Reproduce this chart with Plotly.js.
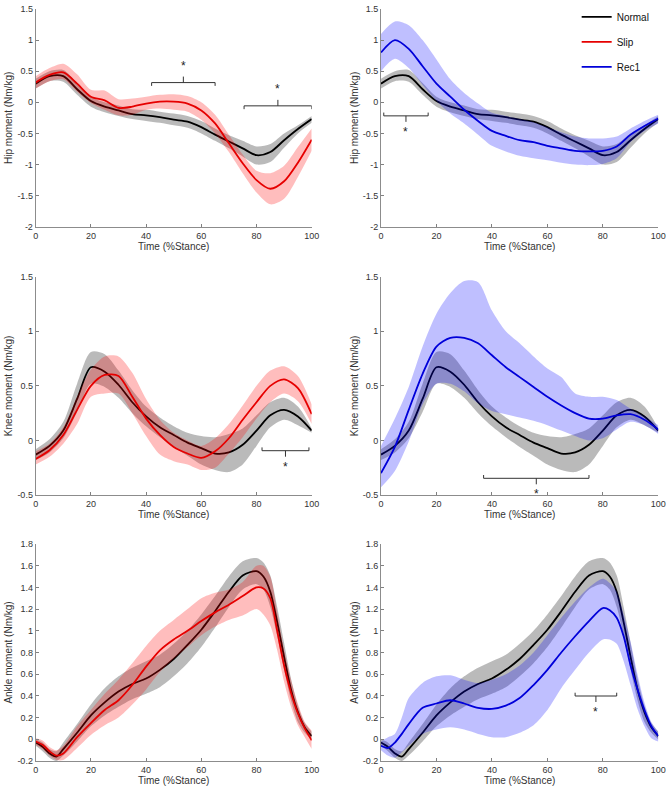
<!DOCTYPE html>
<html>
<head>
<meta charset="utf-8">
<script src="https://cdn.plot.ly/plotly-3.0.1.min.js"></script>
<style>html,body{margin:0;padding:0;background:#fff;}#chart{width:669px;height:794px;}</style>
</head>
<body>
<div id="chart"></div>
<script>
// ---------------- DATA ----------------
const xHip = [0,5,10,15,20,25,30,35,40,45,50,55,60,65,70,75,80,85,90,95,100];
const hipNormalMean  = [0.30,0.42,0.42,0.21,0.02,-0.07,-0.13,-0.19,-0.21,-0.24,-0.28,-0.31,-0.40,-0.52,-0.63,-0.74,-0.85,-0.80,-0.61,-0.43,-0.27];
const hipNormalUpper = [0.38,0.50,0.52,0.31,0.09,0.00,-0.05,-0.11,-0.12,-0.15,-0.18,-0.22,-0.30,-0.42,-0.53,-0.62,-0.71,-0.67,-0.50,-0.37,-0.22];
const hipNormalLower = [0.22,0.34,0.33,0.12,-0.07,-0.16,-0.22,-0.27,-0.30,-0.33,-0.37,-0.41,-0.50,-0.62,-0.74,-0.87,-1.00,-0.96,-0.73,-0.50,-0.33];
const hipSlipMean    = [0.32,0.44,0.48,0.30,0.09,0.03,-0.09,-0.07,-0.02,0.01,0.01,-0.02,-0.13,-0.34,-0.66,-0.98,-1.25,-1.39,-1.27,-0.97,-0.60];
const hipSlipUpper   = [0.42,0.55,0.62,0.45,0.20,0.19,0.05,0.06,0.09,0.12,0.13,0.10,0.00,-0.20,-0.52,-0.84,-1.10,-1.14,-1.02,-0.72,-0.42];
const hipSlipLower   = [0.22,0.34,0.37,0.17,-0.01,-0.12,-0.21,-0.20,-0.12,-0.10,-0.12,-0.15,-0.28,-0.50,-0.80,-1.14,-1.45,-1.64,-1.55,-1.20,-0.78];
const hipRecMean     = [0.80,1.00,0.86,0.58,0.30,0.09,-0.12,-0.30,-0.46,-0.54,-0.61,-0.64,-0.70,-0.74,-0.78,-0.79,-0.78,-0.71,-0.52,-0.38,-0.26];
const hipRecUpper    = [1.10,1.30,1.24,1.00,0.69,0.37,0.15,-0.02,-0.17,-0.22,-0.27,-0.32,-0.40,-0.48,-0.55,-0.58,-0.58,-0.55,-0.42,-0.30,-0.20];
const hipRecLower    = [0.50,0.70,0.55,0.28,0.02,-0.18,-0.34,-0.52,-0.70,-0.79,-0.86,-0.90,-0.93,-0.97,-1.00,-1.01,-0.99,-0.90,-0.64,-0.46,-0.34];

const xKnee = [0,5,10,15,20,25,30,35,40,45,50,55,60,65,70,75,80,85,90,95,100];
const kneeNormalMean  = [-0.13,-0.05,0.09,0.38,0.67,0.63,0.51,0.35,0.22,0.12,0.05,-0.02,-0.07,-0.12,-0.11,-0.04,0.09,0.23,0.28,0.22,0.09];
const kneeNormalUpper = [-0.08,0.01,0.17,0.52,0.81,0.79,0.64,0.46,0.31,0.21,0.13,0.07,0.04,0.03,0.06,0.11,0.23,0.35,0.39,0.31,0.11];
const kneeNormalLower = [-0.18,-0.11,0.02,0.26,0.52,0.49,0.39,0.25,0.13,0.03,-0.06,-0.14,-0.22,-0.27,-0.29,-0.22,-0.05,0.12,0.19,0.14,0.07];
const kneeSlipMean    = [-0.17,-0.09,0.05,0.28,0.50,0.60,0.59,0.40,0.20,0.05,-0.06,-0.12,-0.16,-0.10,0.02,0.19,0.35,0.50,0.56,0.48,0.24];
const kneeSlipUpper   = [-0.10,-0.03,0.12,0.40,0.65,0.77,0.77,0.62,0.38,0.19,0.07,0.00,-0.05,0.02,0.15,0.32,0.50,0.64,0.68,0.59,0.33];
const kneeSlipLower   = [-0.22,-0.15,-0.03,0.15,0.40,0.43,0.43,0.25,0.04,-0.13,-0.19,-0.22,-0.27,-0.25,-0.12,0.03,0.20,0.35,0.43,0.36,0.15];
const kneeRecMean     = [-0.30,-0.06,0.28,0.61,0.86,0.94,0.94,0.89,0.78,0.67,0.58,0.49,0.40,0.32,0.25,0.20,0.20,0.23,0.24,0.19,0.10];
const kneeRecUpper    = [-0.05,0.20,0.49,0.86,1.16,1.35,1.46,1.45,1.19,1.00,0.89,0.77,0.66,0.58,0.43,0.40,0.40,0.37,0.29,0.22,0.14];
const kneeRecLower    = [-0.43,-0.28,-0.01,0.33,0.52,0.52,0.45,0.34,0.27,0.24,0.21,0.18,0.14,0.09,0.04,0.00,0.02,0.10,0.17,0.14,0.06];

const xAnkle = [0,2.5,5,7.5,10,15,20,25,30,35,40,45,50,55,60,65,70,75,80,82.5,85,87.5,90,92.5,95,97.5,100];
const ankleNormalMean  = [-0.03,-0.07,-0.13,-0.16,-0.09,0.06,0.22,0.34,0.44,0.51,0.56,0.64,0.74,0.87,1.01,1.18,1.36,1.51,1.55,1.50,1.36,1.08,0.76,0.46,0.25,0.11,0.03];
const ankleNormalUpper = [0.00,-0.03,-0.09,-0.11,-0.03,0.14,0.32,0.47,0.58,0.66,0.72,0.78,0.88,1.00,1.15,1.32,1.50,1.64,1.67,1.63,1.51,1.22,0.89,0.56,0.31,0.15,0.07];
const ankleNormalLower = [-0.06,-0.11,-0.17,-0.20,-0.15,-0.02,0.12,0.22,0.30,0.37,0.42,0.48,0.58,0.70,0.85,1.03,1.22,1.38,1.43,1.38,1.22,0.95,0.64,0.36,0.16,0.06,0.00];
const ankleSlipMean    = [-0.02,-0.05,-0.11,-0.15,-0.13,0.02,0.15,0.27,0.36,0.50,0.67,0.82,0.92,1.00,1.09,1.17,1.24,1.32,1.40,1.39,1.30,1.00,0.68,0.43,0.24,0.10,-0.01];
const ankleSlipUpper   = [0.01,-0.01,-0.07,-0.10,-0.06,0.12,0.27,0.42,0.55,0.70,0.86,1.00,1.10,1.20,1.30,1.35,1.38,1.45,1.60,1.60,1.50,1.17,0.82,0.55,0.33,0.16,0.08];
const ankleSlipLower   = [-0.05,-0.09,-0.15,-0.19,-0.19,-0.08,0.04,0.13,0.20,0.32,0.46,0.62,0.74,0.85,0.96,1.04,1.10,1.14,1.20,1.15,1.05,0.82,0.53,0.30,0.13,0.02,-0.09];
const ankleRecMean     = [-0.06,-0.08,-0.03,0.05,0.14,0.29,0.33,0.36,0.33,0.29,0.28,0.31,0.38,0.50,0.64,0.80,0.95,1.09,1.21,1.19,1.12,0.95,0.68,0.46,0.27,0.12,0.03];
const ankleRecUpper    = [-0.02,0.02,0.05,0.20,0.38,0.52,0.58,0.59,0.55,0.52,0.55,0.60,0.68,0.80,0.96,1.12,1.27,1.40,1.48,1.44,1.36,1.15,0.90,0.60,0.34,0.16,0.07];
const ankleRecLower    = [-0.10,-0.15,-0.17,-0.12,-0.06,0.05,0.09,0.11,0.09,0.05,0.02,0.02,0.06,0.13,0.27,0.47,0.64,0.80,0.92,0.92,0.88,0.72,0.50,0.28,0.12,0.01,-0.02];

// significance brackets: [start, end, level]
const hipSlipSig   = [[42,65,0.317],[75.5,100,-0.057]];
const hipRecSig    = [[1,17,-0.218]];
const kneeSlipSig  = [[82,99,-0.094]];
const kneeRecSig   = [[37,75,-0.347]];
const ankleSlipSig = [];
const ankleRecSig  = [[70,85,0.399]];

const xTickVals = [0,20,40,60,80,100];
const xTickText = ['0','20','40','60','80','100'];
const hipTickVals = [-2,-1.5,-1,-0.5,0,0.5,1,1.5];
const hipTickText = ['-2','-1.5','-1','-0.5','0','0.5','1','1.5'];
const kneeTickVals = [-0.5,0,0.5,1,1.5];
const kneeTickText = ['-0.5','0','0.5','1','1.5'];
const ankleTickVals = [-0.2,0,0.2,0.4,0.6,0.8,1,1.2,1.4,1.6,1.8];
const ankleTickText = ['-0.2','0','0.2','0.4','0.6','0.8','1','1.2','1.4','1.6','1.8'];

const seriesNames = ['Normal','Slip','Rec1'];
const xTitle = 'Time (%Stance)';
const yTitles = ['Hip moment (Nm/kg)','Knee moment (Nm/kg)','Ankle moment (Nm/kg)'];

// ---------------- STYLE ----------------
const FONT = 'Liberation Sans, Arial, Helvetica, sans-serif';
const styles = {
  Normal: {line:'#000000', band:'rgba(0,0,0,0.27)'},
  Slip:   {line:'#e60000', band:'rgba(255,0,0,0.26)'},
  Rec1:   {line:'#0000d9', band:'rgba(0,0,255,0.25)'}
};

const panels = [
  {ax:'', x:xHip, n:[hipNormalMean,hipNormalUpper,hipNormalLower], o:[hipSlipMean,hipSlipUpper,hipSlipLower], other:'Slip', sig:hipSlipSig, up:true, upp:3.5/217.7},
  {ax:'2', x:xHip, n:[hipNormalMean,hipNormalUpper,hipNormalLower], o:[hipRecMean,hipRecUpper,hipRecLower], other:'Rec1', sig:hipRecSig, up:false, upp:3.5/217.7},
  {ax:'3', x:xKnee, n:[kneeNormalMean,kneeNormalUpper,kneeNormalLower], o:[kneeSlipMean,kneeSlipUpper,kneeSlipLower], other:'Slip', sig:kneeSlipSig, up:false, upp:2/218.3},
  {ax:'4', x:xKnee, n:[kneeNormalMean,kneeNormalUpper,kneeNormalLower], o:[kneeRecMean,kneeRecUpper,kneeRecLower], other:'Rec1', sig:kneeRecSig, up:false, upp:2/218.3},
  {ax:'5', x:xAnkle, n:[ankleNormalMean,ankleNormalUpper,ankleNormalLower], o:[ankleSlipMean,ankleSlipUpper,ankleSlipLower], other:'Slip', sig:ankleSlipSig, up:false, upp:2/217},
  {ax:'6', x:xAnkle, n:[ankleNormalMean,ankleNormalUpper,ankleNormalLower], o:[ankleRecMean,ankleRecUpper,ankleRecLower], other:'Rec1', sig:ankleRecSig, up:false, upp:2/217}
];

const traces = [];
const annotations = [];
const legendShown = {};

function bandTraces(x, upper, lower, color, xa, ya) {
  traces.push({x:x, y:lower, xaxis:xa, yaxis:ya, mode:'lines', line:{width:0, shape:'spline', smoothing:0.8}, showlegend:false, hoverinfo:'skip'});
  traces.push({x:x, y:upper, xaxis:xa, yaxis:ya, mode:'lines', line:{width:0, shape:'spline', smoothing:0.8}, fill:'tonexty', fillcolor:color, showlegend:false, hoverinfo:'skip'});
}
function meanTrace(x, y, name, xa, ya) {
  const show = !legendShown[name];
  legendShown[name] = true;
  traces.push({x:x, y:y, xaxis:xa, yaxis:ya, mode:'lines', name:name,
    line:{color:styles[name].line, width:1.8, shape:'spline', smoothing:0.8},
    showlegend:show, legendrank: seriesNames.indexOf(name)+1, legendgroup:name, hoverinfo:'skip'});
}

panels.forEach(p => {
  const xa = 'x'+p.ax, ya = 'y'+p.ax;
  bandTraces(p.x, p.n[1], p.n[2], styles.Normal.band, xa, ya);
  meanTrace(p.x, p.n[0], 'Normal', xa, ya);
  bandTraces(p.x, p.o[1], p.o[2], styles[p.other].band, xa, ya);
  meanTrace(p.x, p.o[0], p.other, xa, ya);
  // brackets
  const dir = p.up ? 1 : -1;          // direction of centre tick and star
  const endLen = 3.3*p.upp, ctrLen = 6*p.upp;
  p.sig.forEach(s => {
    const [a,b,lv] = s, c = (a+b)/2;
    traces.push({x:[a,a,b,b,null,c,c], y:[lv-dir*endLen, lv, lv, lv-dir*endLen, null, lv, lv+dir*ctrLen],
      xaxis:xa, yaxis:ya, mode:'lines', line:{color:'#333333', width:1}, showlegend:false, hoverinfo:'skip'});
    annotations.push({x:c, y:lv+dir*(ctrLen+ (p.up?2:1)*p.upp), xref:xa, yref:ya, text:'*', showarrow:false,
      yanchor: p.up ? 'bottom':'top', font:{family:FONT, size:12, color:'#222'}});
  });
});

const xDomL = [0.05336, 0.46592], xDomR = [0.56951, 0.98401];
const yDoms = [[0.71448,0.98866],[0.37657,0.65151],[0.04156,0.31486]];
const yRanges = [[-2,1.5],[-0.5,1.5],[-0.2,1.8]];
const yTicks = [[hipTickVals,hipTickText],[kneeTickVals,kneeTickText],[ankleTickVals,ankleTickText]];

const layout = {
  width:669, height:794,
  margin:{l:0,r:0,t:0,b:0},
  paper_bgcolor:'#ffffff', plot_bgcolor:'rgba(0,0,0,0)',
  font:{family:FONT, size:9, color:'#333'},
  showlegend:true,
  legend:{x:0.862, y:0.997, xanchor:'left', yanchor:'top', bgcolor:'rgba(0,0,0,0)',
    font:{family:FONT, size:10, color:'#111'}, traceorder:'grouped', tracegroupgap:6, itemwidth:30},
  annotations: annotations
};

for (let i=1;i<=6;i++) {
  const row = Math.floor((i-1)/2), col = (i-1)%2;
  const key = i===1 ? '' : String(i);
  layout['xaxis'+key] = {
    domain: col===0 ? xDomL : xDomR, anchor:'y'+key, range:[0,100],
    tickvals:xTickVals, ticktext:xTickText, ticks:'inside', ticklen:3, tickcolor:'#808080',
    showline:true, linecolor:'#8c8c8c', linewidth:1, showgrid:false, zeroline:false, mirror:false,
    tickfont:{family:FONT, size:9, color:'#333'},
    title:{text:xTitle, font:{family:FONT, size:10, color:'#333'}, standoff:2},
    automargin:false, fixedrange:true
  };
  layout['yaxis'+key] = {
    domain: yDoms[row], anchor:'x'+key, range:yRanges[row],
    tickvals:yTicks[row][0], ticktext:yTicks[row][1], ticks:'inside', ticklen:3, tickcolor:'#808080',
    showline:true, linecolor:'#8c8c8c', linewidth:1, showgrid:false, zeroline:false, mirror:false,
    tickfont:{family:FONT, size:9, color:'#333'},
    title:{text:yTitles[row], font:{family:FONT, size:10, color:'#333'}, standoff:2},
    automargin:false, fixedrange:true
  };
}

Plotly.newPlot('chart', traces, layout, {displayModeBar:false, staticPlot:true});
</script>
</body>
</html>
